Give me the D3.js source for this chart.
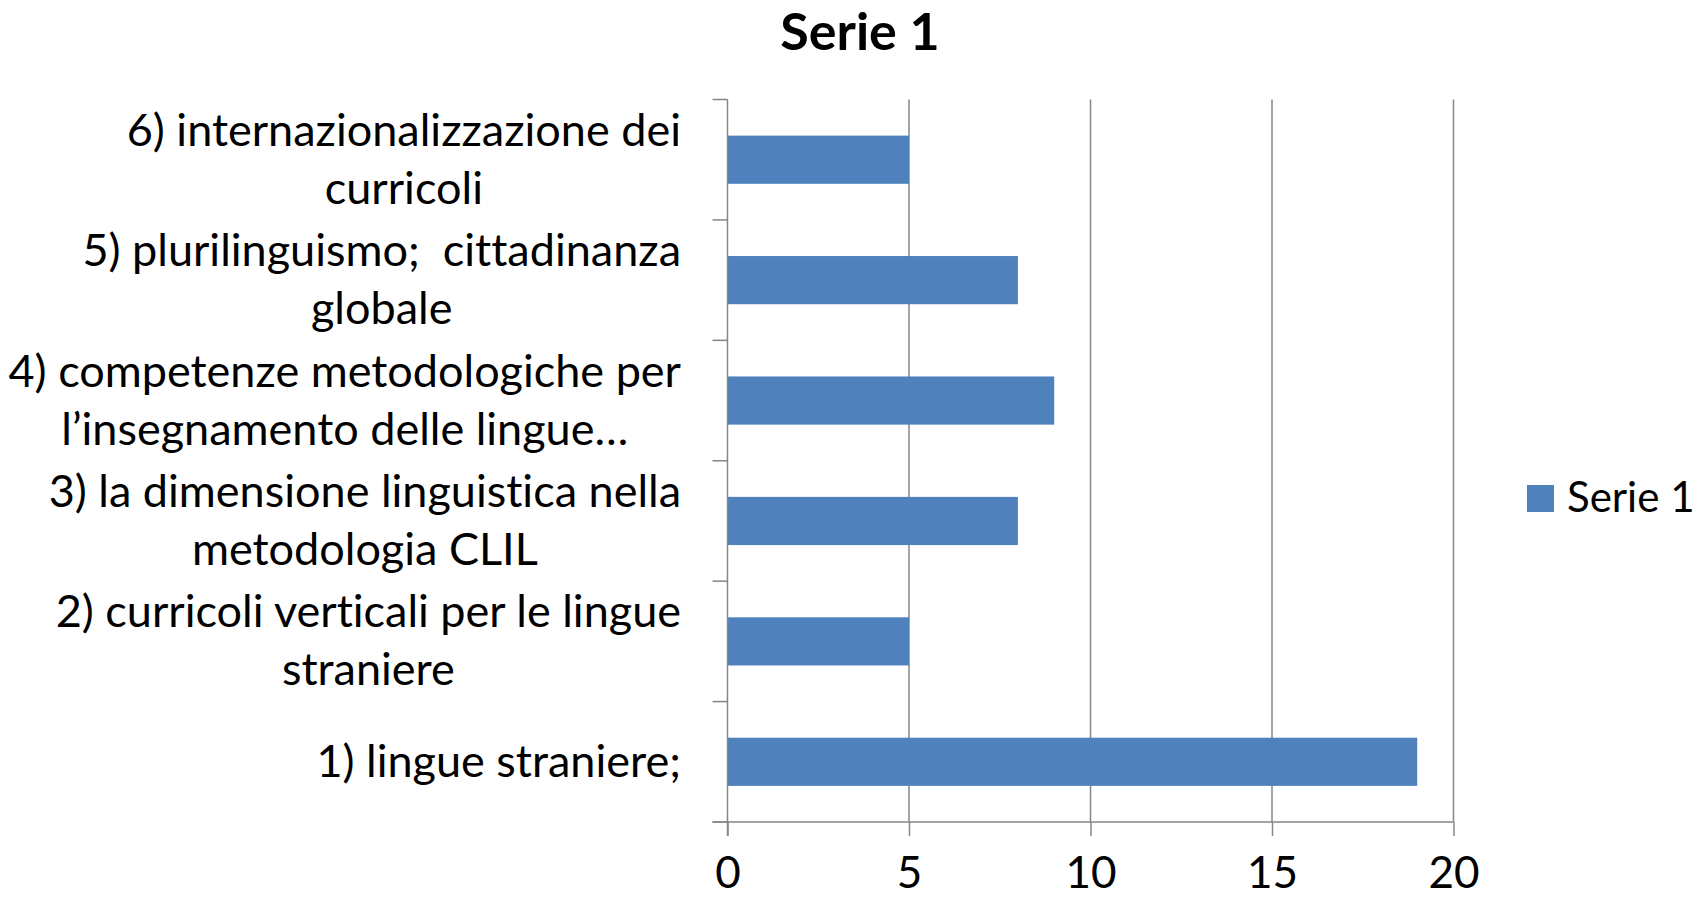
<!DOCTYPE html>
<html>
<head>
<meta charset="utf-8">
<script src="https://cdnjs.cloudflare.com/ajax/libs/d3/7.8.5/d3.min.js"></script>
<style>
  body { margin: 0; background: #fff; }
  text { font-family: Lato, "Open Sans", sans-serif; fill: #000; font-variant-ligatures: none; white-space: pre; }
</style>
</head>
<body>
<div id="chart"></div>
<script>
// categories, bottom to top as in the picture
const categories = [
  ["1) lingue straniere;"],
  ["2) curricoli verticali per le lingue", "straniere"],
  ["3) la dimensione linguistica nella", "metodologia CLIL"],
  ["4) competenze metodologiche per", "l\u2019insegnamento delle lingue\u2026"],
  ["5) plurilinguismo;  cittadinanza", "globale"],
  ["6) internazionalizzazione dei", "curricoli"]
];
const values = [19, 5, 8, 9, 8, 5];
const xTicks = [0, 5, 10, 15, 20];
const seriesName = "Serie 1";

const width = 1700, height = 900;
const plotLeft = 727.5, plotRight = 1453.5, plotTop = 99.5, plotBottom = 822;
const barColor = "#4F81BD";
const gridColor = "#868686";

let svg = d3.select("#chart").append("svg")
  .attr("width", width)
  .attr("height", height);

let xScale = d3.scaleLinear()
  .domain([0, 20])
  .range([plotLeft, plotRight]);

let yScale = d3.scaleBand()
  .domain(d3.range(categories.length))
  .range([plotBottom, plotTop])
  .paddingInner(0.6)
  .paddingOuter(0.3);

// vertical gridlines
svg.append("g").selectAll("line").data(xTicks.slice(1))
  .enter().append("line")
  .attr("x1", d => xScale(d)).attr("x2", d => xScale(d))
  .attr("y1", plotTop).attr("y2", plotBottom)
  .attr("stroke", gridColor).attr("stroke-width", 1.5);

// bars
svg.append("g").selectAll("rect").data(values)
  .enter().append("rect")
  .attr("x", xScale(0))
  .attr("y", (d, i) => yScale(i))
  .attr("width", d => xScale(d) - xScale(0))
  .attr("height", yScale.bandwidth())
  .attr("fill", barColor);

// x axis
let xAxis = d3.axisBottom(xScale).tickValues(xTicks).tickSize(14).tickPadding(21);
let xAxisG = svg.append("g")
  .attr("transform", "translate(0," + plotBottom + ")")
  .call(xAxis);
xAxisG.select(".domain").remove();
xAxisG.selectAll("line").attr("stroke", gridColor).attr("stroke-width", 1.5);
xAxisG.selectAll("text")
  .style("font-family", "Lato, 'Open Sans', sans-serif")
  .style("font-size", "44px")
  .attr("fill", "#000");
svg.append("line")
  .attr("x1", plotLeft - 15).attr("x2", plotRight)
  .attr("y1", plotBottom).attr("y2", plotBottom)
  .attr("stroke", gridColor).attr("stroke-width", 1.5);

// y axis with ticks on band edges
let edges = d3.range(categories.length + 1)
  .map(i => plotBottom - i * (plotBottom - plotTop) / categories.length);
svg.append("line")
  .attr("x1", plotLeft).attr("x2", plotLeft)
  .attr("y1", plotTop).attr("y2", plotBottom + 14)
  .attr("stroke", gridColor).attr("stroke-width", 1.5);
svg.append("g").selectAll("line").data(edges)
  .enter().append("line")
  .attr("x1", plotLeft - 15).attr("x2", plotLeft)
  .attr("y1", d => d).attr("y2", d => d)
  .attr("stroke", gridColor).attr("stroke-width", 1.5);

// category labels: block right-aligned, lines centred within block
const labelRight = 681, lineH = 58, labelSize = 45;
categories.forEach(function(lines, i) {
  let g = svg.append("g");
  let texts = lines.map(function(t) {
    return g.append("text").style("font-size", labelSize + "px").text(t);
  });
  let maxW = d3.max(texts, t => t.node().getComputedTextLength());
  let cy = yScale(i) + yScale.bandwidth() / 2;
  let firstY = cy - (lines.length - 1) * lineH / 2 + 15;
  texts.forEach(function(t, j) {
    t.attr("x", labelRight - maxW / 2)
      .attr("y", firstY + j * lineH)
      .attr("text-anchor", "middle");
  });
});

// title
svg.append("text")
  .attr("x", 860)
  .attr("y", 50)
  .attr("text-anchor", "middle")
  .style("font-size", "52px")
  .style("font-weight", "bold")
  .text(seriesName);

// legend
let legend = svg.append("g").attr("transform", "translate(1527,485)");
legend.append("rect")
  .attr("width", 27).attr("height", 27)
  .attr("fill", barColor);
legend.append("text")
  .attr("x", 40).attr("y", 27)
  .style("font-size", "42px")
  .text(seriesName);
</script>
</body>
</html>
